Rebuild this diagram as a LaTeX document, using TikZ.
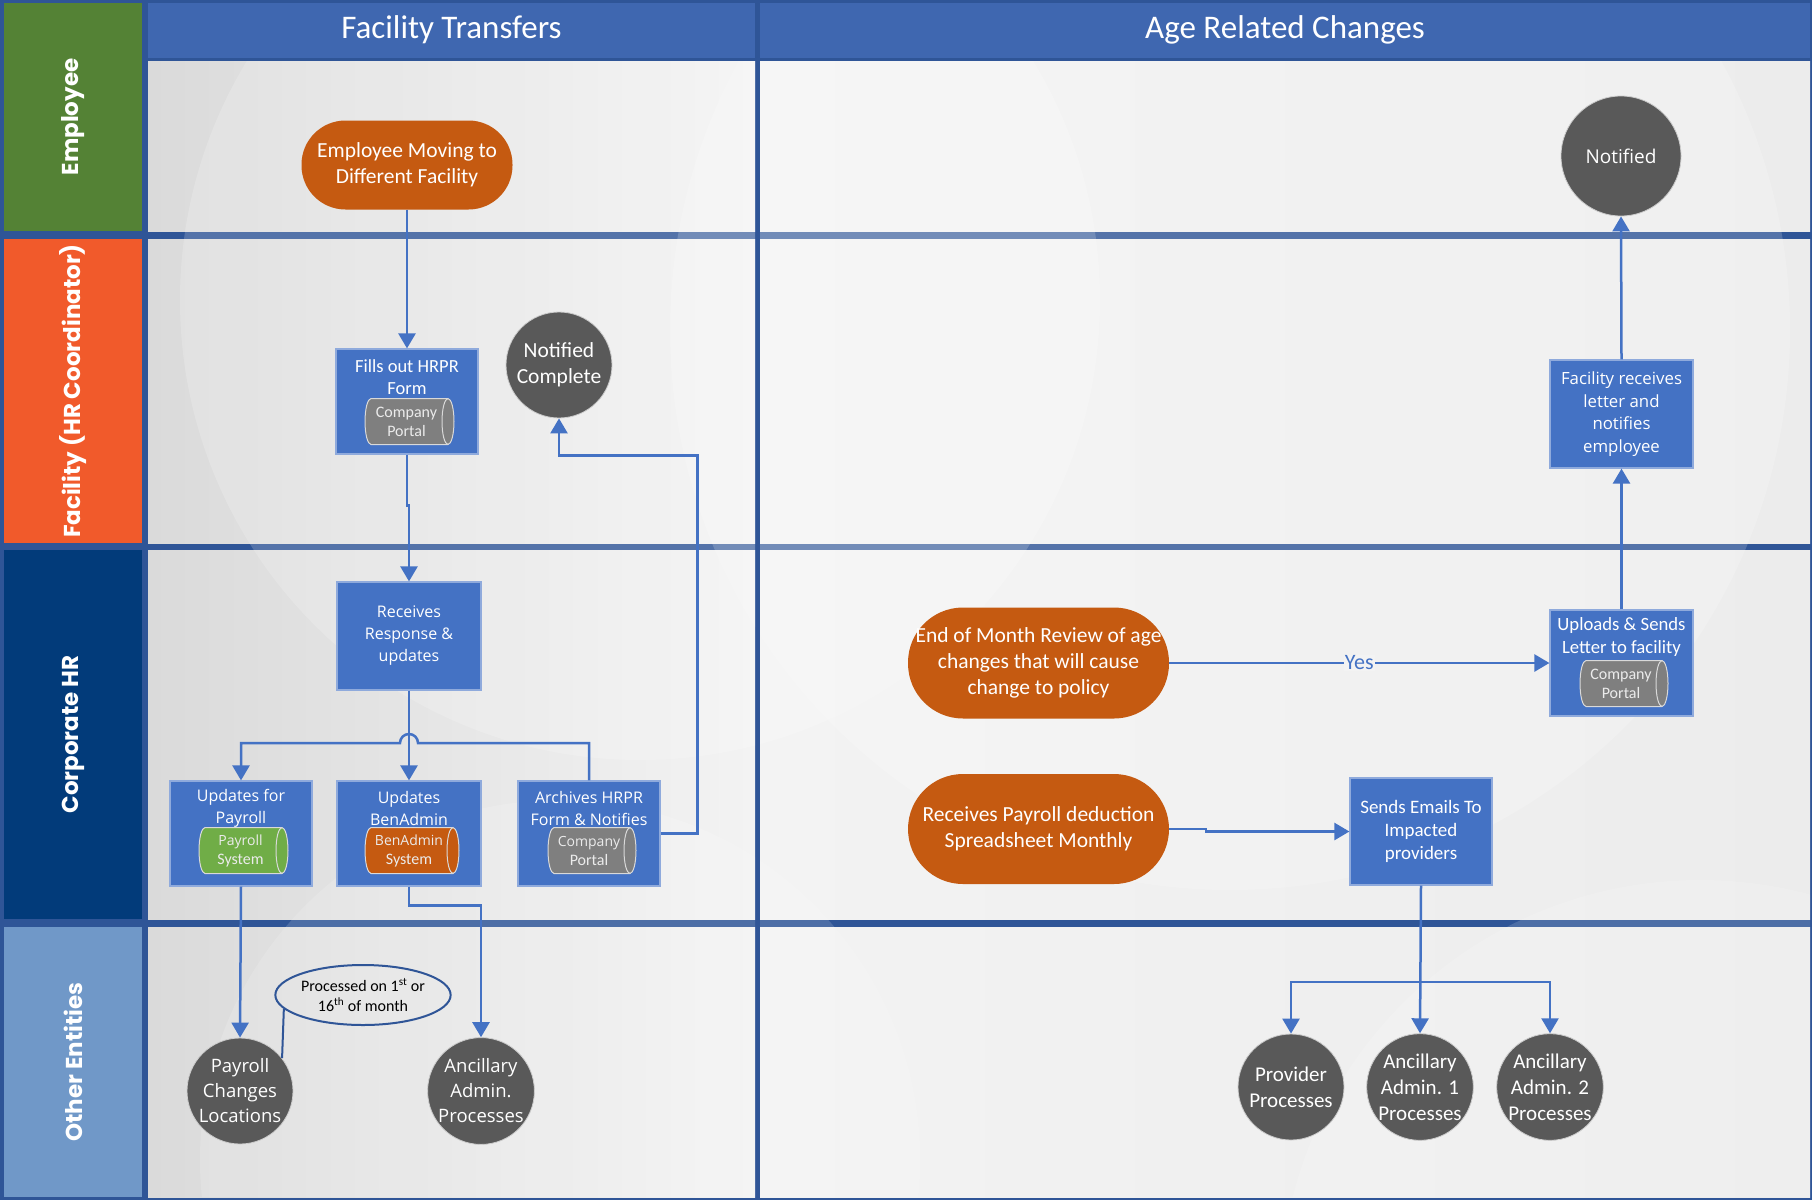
\documentclass[tikz,border=0pt]{standalone}
\usepackage{fontspec}
\setmainfont{Carlito}
\newfontfamily\osans{Open Sans}
\newfontfamily\lanefont{Poppins}
\usetikzlibrary{arrows.meta,calc,shapes.geometric}
\definecolor{frame}{HTML}{2F5597}
\definecolor{hdrblue}{HTML}{3F67B0}
\definecolor{empgreen}{HTML}{548235}
\definecolor{facorange}{HTML}{F15A2B}
\definecolor{corpnavy}{HTML}{023B7A}
\definecolor{otherblue}{HTML}{7098C8}
\definecolor{boxblue}{HTML}{4472C4}
\definecolor{boxedge}{HTML}{8FAADC}
\definecolor{termorange}{HTML}{C55A11}
\definecolor{endgray}{HTML}{595959}
\definecolor{conblue}{HTML}{4472C4}
\definecolor{cylgray}{HTML}{7F7F7F}
\definecolor{cylgreen}{HTML}{70AD47}
\definecolor{cyledge}{HTML}{D9D9D9}
\definecolor{bgdark}{HTML}{DADADA}
\definecolor{bglight}{HTML}{F3F3F3}
\definecolor{bgmid}{HTML}{ECECEC}

\tikzset{
  conn/.style={draw=conblue, line width=2.5pt, -{Triangle[length=15pt,width=17pt]}},
  procbox/.style={rectangle, fill=boxblue, draw=boxedge, line width=1.2pt, text=white, align=center, inner sep=2pt},
  term/.style={rectangle, fill=termorange, text=white, align=center, inner sep=2pt, font=\fontsize{21.5}{26}\selectfont},
  endc/.style={circle, fill=endgray, draw=white!70!endgray, line width=0.8pt, text=white, align=center, inner sep=0pt},
  lanelbl/.style={rotate=90, text=white, font=\lanefont\bfseries\fontsize{23}{27}\selectfont},
  hdr/.style={text=white, font=\fontsize{33}{38}\selectfont},
  boxtitle/.style={text=white, align=center, inner sep=0pt},
  cyltext/.style={text=white!92!black, align=center, inner sep=0pt, font=\fontsize{16}{19}\selectfont},
  yeslbl/.style={fill=bglight, text=conblue, inner sep=1pt, font=\fontsize{22}{24}\selectfont},
}

\newcommand{\dbcyl}[6]{%
  \begin{scope}[shift={(#2,#3)}]
    \pgfmathsetmacro\hw{#4/2-6}
    \filldraw[fill=#5, draw=cyledge, line width=1pt] (-\hw,-23) -- (\hw,-23)
      arc[start angle=-90, end angle=90, x radius=6, y radius=23] -- (-\hw,23)
      arc[start angle=90, end angle=270, x radius=6, y radius=23] -- cycle;
    \draw[cyledge, line width=1pt] (\hw,-23) arc[start angle=-90, end angle=-270, x radius=6, y radius=23];
    \node[cyltext] (#1) at (-3,0) {#6};
  \end{scope}}

\begin{document}
\begin{tikzpicture}[x=1pt,y=-1pt]
\useasboundingbox (0,0) rectangle (1812,1200);
\fill[frame] (0,0) rectangle (1812,1200);

% lane label boxes
\fill[empgreen] (4,3) rectangle (142,231);
\fill[facorange] (4,239) rectangle (142,543);
\fill[corpnavy] (4,550) rectangle (142,919);
\fill[otherblue] (4,927) rectangle (142,1197);

% header
\fill[hdrblue] (148,3) rectangle (755,58);
\fill[hdrblue] (760,3) rectangle (1810,58);

% content cells
\foreach \ya/\yb in {61/231, 239/543, 550/919, 927/1197}{
  \shade[left color=bgdark, right color=bglight] (148,\ya) rectangle (755,\yb);
  \shade[left color=bglight, right color=bgmid] (760,\ya) rectangle (1810,\yb);
}
% faint background swirls
\begin{scope}
  \clip (148,61) rectangle (755,1197) (760,61) rectangle (1810,1197);
  \fill[white, opacity=0.18] (640,300) circle[radius=460];
  \fill[white, opacity=0.15] (560,1160) circle[radius=360];
  \fill[white, opacity=0.18] (1230,330) circle[radius=560];
  \fill[white, opacity=0.15] (1700,1300) circle[radius=420];
\end{scope}

% lane labels
\node[lanelbl] (l1) at (73,117) {Employee};
\node[lanelbl] (l2) at (73,391) {Facility (HR Coordinator)};
\node[lanelbl] (l3) at (73,734.5) {Corporate HR};
\node[lanelbl] (l4) at (73,1062) {Other Entities};

% headers
\node[hdr] (h1) at (451.5,30) {Facility Transfers};
\node[hdr] (h2) at (1285,30) {Age Related Changes};

% ---------- Facility Transfers ----------
\node[term, rounded corners=44pt, minimum width=211pt, minimum height=89pt] (emp) at (407,165) {Employee Moving to\\Different Facility};

\node[procbox, minimum width=142pt, minimum height=105pt] (fill) at (407,401.5) {};
\node[boxtitle, font=\fontsize{18.5}{22}\selectfont] (fillt) at (407,377) {Fills out HRPR\\Form};
\dbcyl{c1}{409.5}{421.5}{89}{cylgray}{Company\\Portal}

\node[endc, minimum size=106pt, font=\fontsize{21.5}{26}\selectfont] (nc) at (559,365) {Notified\\Complete};

\node[procbox, minimum width=144pt, minimum height=108pt, font=\osans\fontsize{16}{22}\selectfont] (recv) at (409,636) {Receives\\Response \&\\updates};

\node[procbox, minimum width=142pt, minimum height=105pt] (pay) at (241,833.5) {};
\node[boxtitle, font=\osans\fontsize{16}{22}\selectfont] (payt) at (241,808) {Updates for\\Payroll};
\dbcyl{c2}{243.5}{850.5}{89}{cylgreen}{\osans\fontsize{14}{18.5}\selectfont Payroll\\System}

\node[procbox, minimum width=144pt, minimum height=105pt] (ben) at (409,833.5) {};
\node[boxtitle, font=\osans\fontsize{16}{22}\selectfont] (bent) at (409,808) {Updates\\BenAdmin};
\dbcyl{c3}{412}{850.5}{94}{termorange}{\osans\fontsize{14}{18.5}\selectfont BenAdmin\\System}

\node[procbox, minimum width=142pt, minimum height=105pt] (arch) at (589,833.5) {};
\node[boxtitle, font=\osans\fontsize{16}{22}\selectfont] (archt) at (589,808) {Archives HRPR\\Form \& Notifies};
\dbcyl{c4}{592}{850.5}{88}{cylgray}{\osans\fontsize{14}{18.5}\selectfont Company\\Portal}

\node[endc, minimum size=106pt, font=\osans\fontsize{18.5}{25}\selectfont] (pcl) at (240,1091) {Payroll\\Changes\\Locations};
\node[endc, minimum size=106pt, font=\osans\fontsize{18.5}{25}\selectfont] (aap) at (481,1091) {Ancillary\\Admin.\\Processes};

\node[ellipse, draw=frame, line width=2pt, minimum width=174pt, minimum height=60pt, inner sep=0pt, align=center, font=\fontsize{16}{20}\selectfont] (call) at (363,995) {Processed on 1\textsuperscript{st} or\\16\textsuperscript{th} of month};

% connectors (left)
\draw[conn] (emp.south) -- (fill.north);
\draw[conn] (fill.south) |- ($(fill.south)!0.4!(recv.north)$) -| (recv.north);
\draw[conn] (recv.south) -- (ben.north);
\coordinate (hy) at (0,743);
\draw[conn] (arch.north) -- (arch.north |- hy) -- ([xshift=9pt]recv.south |- hy)
   arc[start angle=0, end angle=-180, radius=9] -- (pay.north |- hy) -- (pay.north);
\draw[conn] (arch.east) -- ++(37,0) |- ([yshift=-37pt]nc.south) -- (nc.south);
\draw[conn] (pay.south) -- (pcl.north);
\draw[conn] (ben.south) -- ++(0,19) -| (aap.north);
\draw[frame, line width=2pt] (call.190) -- (pcl.38);

% ---------- Age Related Changes ----------
\node[endc, minimum size=120pt, font=\osans\fontsize{19}{22}\selectfont] (notif) at (1621,156) {Notified};
\node[procbox, minimum width=143pt, minimum height=108pt, font=\osans\fontsize{16.8}{22.5}\selectfont] (frl) at (1621.5,414) {Facility receives\\letter and\\notifies\\employee};

\node[procbox, minimum width=143pt, minimum height=106pt] (upl) at (1621.5,663) {};
\node[boxtitle, font=\fontsize{18.7}{23}\selectfont] (uplt) at (1621.5,637) {Uploads \& Sends\\Letter to facility};
\dbcyl{c5}{1624}{683.5}{88}{cylgray}{Company\\Portal}

\node[term, rounded corners=55pt, minimum width=261pt, minimum height=111pt] (eom) at (1038.5,663) {End of Month Review of age\\changes that will cause\\change to policy};
\node[term, rounded corners=55pt, minimum width=261pt, minimum height=110pt] (rpd) at (1038.5,829) {Receives Payroll deduction\\Spreadsheet Monthly};

\node[procbox, minimum width=142pt, minimum height=107pt, font=\fontsize{19}{23}\selectfont] (sem) at (1421,831.5) {Sends Emails To\\Impacted\\providers};

\node[endc, minimum size=106pt, font=\fontsize{21}{26}\selectfont] (pp) at (1291,1087) {Provider\\Processes};
\node[endc, minimum size=106pt, font=\fontsize{21}{26}\selectfont] (aa1) at (1420,1087) {Ancillary\\Admin. 1\\Processes};
\node[endc, minimum size=106pt, font=\fontsize{21}{26}\selectfont] (aa2) at (1550,1087) {Ancillary\\Admin. 2\\Processes};

% connectors (right)
\draw[conn] (frl.north) -- (notif.south);
\draw[conn] (upl.north) -- (frl.south);
\draw[conn] (eom.east) -- node[yeslbl] (yes) {Yes} (eom.east -| upl.west);
\draw[conn] (rpd.east) -- ++(37,0) |- (sem.west);
\coordinate (hb) at (1421,982);
\draw[conn] (sem.south) -- (aa1.north);
\draw[conn] (hb) -| (pp.north);
\draw[conn] (hb) -| (aa2.north);
\end{tikzpicture}
\end{document}
